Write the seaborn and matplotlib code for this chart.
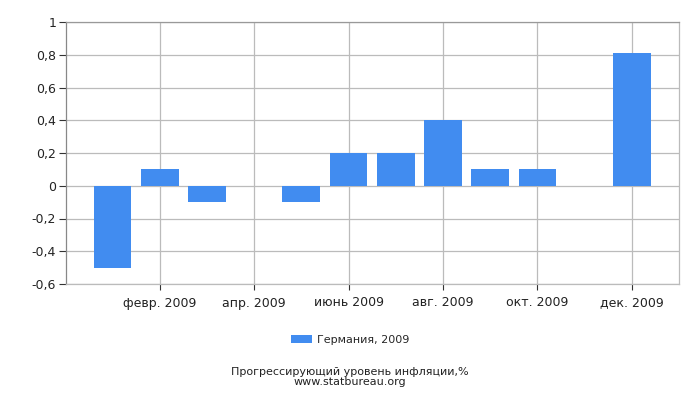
import pandas as pd
import numpy as np
import matplotlib
matplotlib.use("Agg")
import matplotlib.pyplot as plt
import seaborn as sns

sns.set_theme(style="white")
plt.rcParams['font.family'] = ['DejaVu Sans']

# Monthly inflation, Germany 2009 (%)
months = ["янв. 2009", "февр. 2009", "март 2009", "апр. 2009", "май 2009", "июнь 2009",
          "июль 2009", "авг. 2009", "сент. 2009", "окт. 2009", "нояб. 2009", "дек. 2009"]
values = [-0.5, 0.1, -0.1, 0.0, -0.1, 0.2, 0.2, 0.4, 0.1, 0.1, 0.0, 0.81]
series_name = "Германия, 2009"
yticks = [-0.6, -0.4, -0.2, 0, 0.2, 0.4, 0.6, 0.8, 1]
ytick_labels = ["-0,6", "-0,4", "-0,2", "0", "0,2", "0,4", "0,6", "0,8", "1"]

BAR = "#418cf0"
GRID = "#bbbbbb"

df = pd.DataFrame({"month": months, "value": values, "series": series_name})

fig = plt.figure(figsize=(7, 4), dpi=100)
ax = fig.add_axes([0.094, 0.29, 0.876, 0.655])

sns.barplot(data=df, x="month", y="value", hue="series", palette=[BAR],
            order=months, width=0.8, saturation=1, linewidth=0, ax=ax, legend=False)

ax.set_xlim(-0.99, 12.0)
ax.set_ylim(-0.6, 1.0)
ax.set_yticks(yticks)
ax.set_yticklabels(ytick_labels, fontsize=9, color="#222222")
tick_pos = [1, 3, 5, 7, 9, 11]
ax.set_xticks(tick_pos)
ax.set_xticklabels([months[i] for i in tick_pos], fontsize=9, color="#222222")
ax.set_xlabel("")
ax.set_ylabel("")

ax.set_axisbelow(True)
ax.grid(True, axis="both", color=GRID, linewidth=0.9)
for s in ax.spines.values():
    s.set_color(GRID)
    s.set_linewidth(0.9)
ax.spines["left"].set_color("#888888")
ax.spines["top"].set_color("#999999")
ax.tick_params(axis="y", length=5, width=0.8, color="#333333", direction="out", pad=2, left=True)
ax.tick_params(axis="x", length=4, width=0.8, color="#333333", direction="out", pad=5, bottom=True)

fig.legend(handles=ax.containers[0].patches[:1], labels=[series_name], loc="center",
           bbox_to_anchor=(0.5, 0.15), frameon=False, fontsize=8,
           handlelength=1.9, handleheight=0.8, handletextpad=0.4)

fig.text(0.5, 0.071, "Прогрессирующий уровень инфляции,%", ha="center", va="center",
         fontsize=8, color="#222222")
fig.text(0.5, 0.046, "www.statbureau.org", ha="center", va="center",
         fontsize=8, color="#222222")

fig.savefig("out.png", dpi=100)
